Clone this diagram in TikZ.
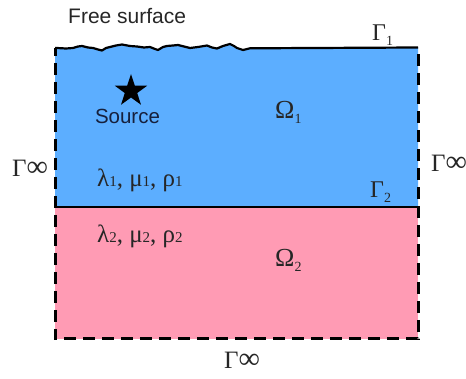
\documentclass[tikz,border=0pt]{standalone}
\usepackage{fontspec}
\setmainfont{Liberation Serif}
\newfontfamily\sansfnt{Liberation Sans}
\usetikzlibrary{shapes.geometric}
\definecolor{layerA}{RGB}{92,174,255}
\definecolor{layerB}{RGB}{255,155,180}
\definecolor{srcText}{RGB}{22,32,60}
\newcommand{\lsub}[1]{\raisebox{-0.18em}{\fontsize{14}{14}\selectfont #1}}
\newcommand{\bsub}[1]{{\fontsize{15}{15}\selectfont #1}}
\newcommand{\ginf}{{\fontsize{25}{25}\selectfont Γ}{\fontsize{30}{30}\selectfont ∞}}
\tikzset{
  lbl/.style={anchor=base west, inner sep=0pt, text=black!85},
  bnd/.style={line width=2.2pt, black},
  openbnd/.style={line width=3pt, black, dash pattern=on 12pt off 7pt},
}
\begin{document}
\begin{tikzpicture}[x=1pt,y=-1pt]
\useasboundingbox (0,0) rectangle (466,379);
% layers
\fill[layerB] (55,207) rectangle (418,339);
\fill[layerA] (55,207) -- (55,48) -- plot coordinates {(56.7,48) (66,48.5) (73,48) (78,46.5) (82,46) (88,47.5) (93,48) (98,49.5) (102,50.5) (106,48) (110,47) (116,45.5) (122,44.5) (130,46) (137,46.5) (144,47.5) (150,47) (155,49) (158,50) (163,47) (167,46) (173,45.5) (178,45) (184,46.5) (190,48) (198,47) (207,45.5) (212,47.5) (217,48.5) (223,46) (230,44) (234,46) (237,48) (243,50) (250,48.3)} -- (418,47.5) -- (418,207) -- cycle;
% boundaries
\coordinate (tl) at (55,48);
\coordinate (tr) at (418,47.5);
\coordinate (bl) at (55,339);
\coordinate (br) at (418,339);
\coordinate (il) at (55,207);
\coordinate (ir) at (418,207);
\draw[bnd, line join=round] (tl) -- plot coordinates {(56.7,48) (66,48.5) (73,48) (78,46.5) (82,46) (88,47.5) (93,48) (98,49.5) (102,50.5) (106,48) (110,47) (116,45.5) (122,44.5) (130,46) (137,46.5) (144,47.5) (150,47) (155,49) (158,50) (163,47) (167,46) (173,45.5) (178,45) (184,46.5) (190,48) (198,47) (207,45.5) (212,47.5) (217,48.5) (223,46) (230,44) (234,46) (237,48) (243,50) (250,48.3)} -- (tr);
\draw[line width=2pt] (il) -- (ir);
\draw[openbnd, dash phase=4pt] (tl) -- (bl) -- (br) -- (tr);
% labels
\node[lbl] (fs) at (68,24) {\sansfnt\fontsize{21}{21}\selectfont Free surface};
\node[star, star points=5, star point ratio=2.6, fill=black, minimum size=34pt, inner sep=0pt] (star) at (131,91) {};
\node[anchor=base, inner sep=0pt, text=srcText] (src) at (127.5,124) {\sansfnt\fontsize{20.5}{20.5}\selectfont Source};
\node[lbl] (g1) at (372,41) {\fontsize{24}{24}\selectfont Γ\lsub{1}};
\node[lbl] (g2) at (370,198) {\fontsize{24}{24}\selectfont Γ\lsub{2}};
\node[lbl] (gl) at (12,177) {\ginf};
\node[lbl] (gr) at (431,172) {\ginf};
\node[lbl] (gb) at (224,368) {\ginf};
\node[lbl] (o1) at (275,119) {\fontsize{26}{26}\selectfont Ω\lsub{1}};
\node[lbl] (o2) at (275,267) {\fontsize{26}{26}\selectfont Ω\lsub{2}};
\node[lbl] (p1) at (97,187) {\fontsize{25}{25}\selectfont λ\bsub{1}, μ\bsub{1}, ρ\bsub{1}};
\node[lbl] (p2) at (97,243) {\fontsize{25}{25}\selectfont λ\bsub{2}, μ\bsub{2}, ρ\bsub{2}};
\end{tikzpicture}
\end{document}
